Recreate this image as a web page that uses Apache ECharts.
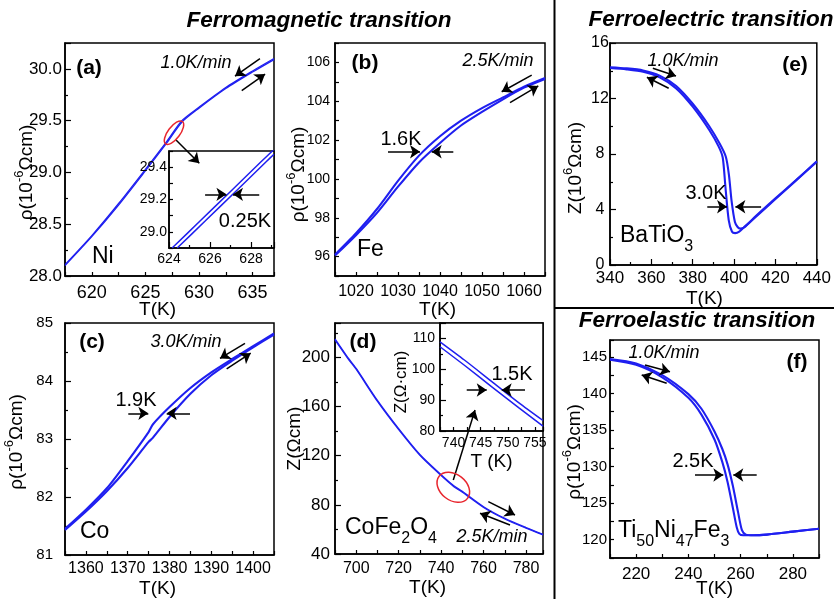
<!DOCTYPE html>
<html><head><meta charset="utf-8">
<script src="https://cdn.jsdelivr.net/npm/echarts@6/dist/echarts.min.js"></script>
<style>html,body{margin:0;padding:0;background:#fff}#c{width:834px;height:599px}</style>
</head><body><div id="c"></div>
<script>
// ---------------- data ----------------
// (a) Ni
const niT = [617.5, 620, 622.5, 625, 627, 628.4, 630, 632.5, 635, 637];
const niRhoHeat = [28.11, 28.39, 28.70, 29.03, 29.30, 29.50, 29.63, 29.82, 29.98, 30.10];
const niRhoCool = [28.10, 28.38, 28.685, 29.015, 29.285, 29.485, 29.62, 29.81, 29.97, 30.09];
// (a) inset
const niInTHeat = [624.15, 625.5, 627.0, 628.5, 629.12];
const niInRhoHeat = [28.90, 29.065, 29.25, 29.435, 29.51];
const niInTCool = [624.4, 625.75, 627.25, 628.75, 629.12];
const niInRhoCool = [28.90, 29.065, 29.25, 29.435, 29.48];
// (b) Fe
const feT = [1015, 1020, 1025, 1030, 1035, 1040, 1045, 1050, 1055, 1060, 1065];
const feRhoHeat = [96.1, 97.2, 98.45, 99.9, 101.2, 102.2, 103.0, 103.65, 104.2, 104.75, 105.2];
const feRhoCool = [96.05, 97.1, 98.25, 99.6, 100.85, 101.85, 102.75, 103.45, 104.1, 104.7, 105.15];
// (c) Co
const coT = [1355, 1360, 1365, 1370, 1375, 1376, 1380, 1385, 1390, 1395, 1400, 1405];
const coRhoHeat = [81.45, 81.78, 82.15, 82.62, 83.12, 83.25, 83.55, 83.88, 84.15, 84.38, 84.6, 84.82];
const coRhoCool = [81.43, 81.75, 82.1, 82.5, 82.95, 83.02, 83.38, 83.78, 84.1, 84.35, 84.58, 84.8];
// (d) CoFe2O4
const cfoT = [690, 696, 700, 710, 720, 730, 740, 746, 750, 760, 770, 780, 788];
const cfoZHeat = [215, 200, 191, 165, 142, 121, 104.5, 95.5, 91, 78.5, 69, 61.5, 56];
const cfoZCool = [214.2, 199.2, 190.2, 164.2, 141.2, 120.3, 103.8, 94.8, 90.3, 77.9, 68.5, 61, 55.5];
// (d) inset
const cfoInT = [737.5, 742, 747, 752, 756.5];
const cfoInZHeat = [108.9, 103.0, 96.1, 89.2, 83.4];
const cfoInZCool = [107.3, 101.3, 94.4, 87.6, 81.6];
// (e) BaTiO3
const btoTCool = [340, 348, 356, 364, 372, 380, 388, 392.5, 394.5, 395.8, 397.4, 399, 400.5, 402.5, 405, 410, 420, 430, 440];
const btoZCool = [14.2, 14.1, 13.93, 13.52, 12.73, 11.41, 9.73, 8.55, 7.75, 5.64, 3.24, 2.4, 2.3, 2.4, 2.75, 3.4, 4.75, 6.1, 7.45];
const btoTHeat = [340, 348, 356, 364, 372, 380, 388, 393, 396, 397.5, 398.8, 400.4, 401.8, 403, 405, 410, 420, 430, 440];
const btoZHeat = [14.25, 14.17, 14.02, 13.65, 12.9, 11.62, 10.0, 8.75, 7.8, 6.5, 4.6, 3.1, 2.72, 2.62, 2.72, 3.45, 4.8, 6.12, 7.47];
// (f) Ti50Ni47Fe3
const tnfTCool = [210, 220, 230, 240, 245, 250, 253, 255, 257, 258.5, 259.5, 261, 265, 270, 280, 290];
const tnfRhoCool = [144.6, 143.9, 142.2, 139.4, 137.1, 133.7, 130.6, 127.9, 124.4, 121.7, 120.8, 120.6, 120.6, 120.7, 121.1, 121.5];
const tnfTHeat = [210, 220, 230, 240, 245, 250, 253, 255, 257, 259, 260.5, 262, 265, 270, 280, 290];
const tnfRhoHeat = [144.7, 144.1, 142.5, 139.9, 137.9, 134.8, 132.4, 130.3, 127.4, 123.8, 121.3, 120.7, 120.6, 120.7, 121.1, 121.5];

// annotation arrows, in data coordinates of each panel
const arrowsA = [[[635.69, 30.10], [633.36, 29.93]], [[633.99, 29.79], [636.17, 29.95]], [[627.86, 29.313], [630.03, 29.088]]];
const arrowsAIn = [[[625.76, 29.232], [626.80, 29.232]], [[628.4, 29.232], [627.12, 29.232]]];
const arrowsB = [[[1027.62, 101.4], [1035.24, 101.4]], [[1043.17, 101.4], [1038.02, 101.4]], [[1061.83, 105.35], [1054.69, 104.49]], [[1056.67, 103.93], [1063.4, 104.79]]];
const arrowsC = [[[1370.14, 83.443], [1374.93, 83.443]], [[1384.9, 83.443], [1379.33, 83.443]], [[1398.06, 84.65], [1392.08, 84.39]], [[1393.68, 84.21], [1399.43, 84.48]]];
const arrowsD = [[[762.23, 82.57], [774.81, 71.74]], [[772.45, 63.6], [758.32, 73.12]], [[745.74, 100.2], [755.96, 157.2]]];
const arrowsDIn = [[[742.43, 93.29], [746.12, 93.29]], [[753.18, 93.29], [748.88, 93.29]]];
const arrowsE = [[[360.72, 14.18], [371.91, 13.62]], [[368.37, 12.74], [357.85, 13.53]], [[387.03, 4.2], [396.6, 4.2]], [[413.06, 4.2], [400.62, 4.2]]];
const arrowsF = [[[223.4, 143.88], [232.97, 142.97]], [[231.7, 141.38], [222.13, 142.52]], [[242.54, 128.85], [253.37, 128.85]], [[266.15, 128.85], [257.2, 128.85]]];
const ellipses = [{gi: 0, at: [627.67, 29.384], rx: 14, ry: 6, rot: 53}, {gi: 4, at: [745.74, 94.3], rx: 18, ry: 13, rot: -38}];

// ---------------- styling / layout ----------------
const FONT = "'Liberation Sans', Arial, Helvetica, sans-serif";
const BLUE = '#1f1ff0';
const RED = '#e8262e';
function isMult(v, m) { const r = v / m; return Math.abs(r - Math.round(r)) < 1e-6; }

function makeAxis(gi, min, max, major, minor, dec, o) {
  o = o || {};
  const useMajor = isMult(min, major);
  return {
    type: 'value', gridIndex: gi, min, max,
    interval: useMajor ? major : minor,
    axisLine: {show: true, onZero: false, lineStyle: {color: '#000', width: 1.5}},
    axisTick: {show: true, inside: true, length: useMajor ? 6 : 4, lineStyle: {color: '#000', width: 1.2}},
    minorTick: (useMajor && minor < major) ? {show: true, splitNumber: Math.round(major / minor), length: 3, lineStyle: {color: '#000', width: 1.2}} : {show: false},
    splitLine: {show: false},
    axisLabel: Object.assign({color: '#000', fontFamily: FONT, fontSize: o.fs || 17, margin: o.margin == null ? 8 : o.margin,
      formatter: v => isMult(v, major) ? v.toFixed(dec) : ''}, o.label || {}),
    name: o.name || '', nameLocation: 'middle', nameGap: o.gap || 20, nameRotate: o.rot || 0,
    nameMoveOverlap: false,
    nameTextStyle: Object.assign({color: '#000', fontFamily: FONT, fontSize: o.nfs || 19,
      rich: {sup: {fontFamily: FONT, fontSize: 13, color: '#000', padding: [0, 0, 14, 0]}}}, o.nts || {}),
    z: o.z || 0
  };
}
function grid(l, t, w, h, inset) {
  return {left: l, top: t, width: w, height: h, show: true, borderColor: '#000', borderWidth: 1.5,
    backgroundColor: inset ? '#fff' : 'transparent', z: inset ? 5 : 0};
}
function curve(gi, xs, ys, w, z) {
  return {type: 'line', xAxisIndex: gi, yAxisIndex: gi, data: xs.map((x, i) => [x, ys[i]]), symbol: 'none',
    smooth: 0.25, lineStyle: {color: BLUE, width: w || 1.5}, z: z || 2, silent: true, animation: false};
}
function arrows(gi, list) {
  return {type: 'lines', coordinateSystem: 'cartesian2d', xAxisIndex: gi, yAxisIndex: gi, z: 10,
    symbol: ['none', 'arrow'], symbolSize: 10, lineStyle: {color: '#000', width: 1.5, opacity: 1, curveness: 0},
    data: list.map(c => ({coords: c})), silent: true, animation: false};
}

const grids = [
  grid(65, 43, 209, 233), grid(169, 151, 105, 97, true), grid(335, 43, 210, 233), grid(65, 323, 209, 232),
  grid(335, 323, 208, 231), grid(440, 323, 103, 108, true), grid(610, 43, 209, 222), grid(610, 340, 209, 218)
];
const RHO = 'ρ(10{sup|-6}Ωcm)';
const xAxes = [
  makeAxis(0, 617.5, 637, 5, 2.5, 0, {margin: 8, fs: 18, name: 'T(K)', gap: 24, nts: {padding: [0, 24, 0, 0]}}),
  makeAxis(1, 624, 629.12, 2, 1, 0, {margin: 4, fs: 14, z: 6}),
  makeAxis(2, 1015, 1065, 10, 5, 0, {margin: 8, fs: 16, name: 'T(K)', gap: 24, nts: {padding: [0, 5, 0, 0]}}),
  makeAxis(3, 1355, 1405, 10, 5, 0, {margin: 6, fs: 16, name: 'T(K)', gap: 24, nts: {padding: [0, 24, 0, 0]}}),
  makeAxis(4, 690, 788, 20, 10, 0, {margin: 7, fs: 16, name: 'T(K)', gap: 24, nts: {padding: [0, 23, 0, 0]}}),
  makeAxis(5, 737.5, 756.5, 5, 2.5, 0, {margin: 5, fs: 14, z: 6, name: 'T (K)', gap: 21, nfs: 19}),
  makeAxis(6, 340, 440, 20, 10, 0, {margin: 5, fs: 17, name: 'T(K)', gap: 24, nts: {padding: [0, 18, 0, 0]}}),
  makeAxis(7, 210, 290, 20, 10, 0, {margin: 8, fs: 17, name: 'T(K)', gap: 21})
];
const yAxes = [
  makeAxis(0, 28, 30.25, 0.5, 0.25, 1, {margin: 3, fs: 17, name: RHO, rot: 90, gap: 25, nts: {padding: [0, 26, 0, 0]}}),
  makeAxis(1, 28.9, 29.5, 0.2, 0.1, 1, {margin: 2, fs: 14, z: 6}),
  makeAxis(2, 95, 107, 2, 1, 0, {margin: 5, fs: 14, name: RHO, rot: 90, gap: 23, nts: {padding: [0, 30, 0, 0]}}),
  makeAxis(3, 81, 85, 1, 0.5, 0, {margin: 12, fs: 15, name: RHO, rot: 90, gap: 35, nts: {padding: [0, 6, 0, 0]}}),
  makeAxis(4, 40, 228, 40, 20, 0, {margin: 5, fs: 17, name: 'Z(Ωcm)', rot: 90, gap: 31}),
  makeAxis(5, 80, 115, 10, 5, 0, {margin: 5, fs: 14, z: 6, name: 'Z(Ω·cm)', rot: 90, gap: 30, nfs: 17, nts: {padding: [0, 10, 0, 0]}}),
  makeAxis(6, 0, 16, 4, 2, 0, {margin: 10, fs: 16, label: {align: 'center'}, name: 'Z(10{sup|6}Ωcm)', rot: 90, gap: 21, nts: {padding: [0, 28, 0, 0]}}),
  makeAxis(7, 117.5, 147.3, 5, 2.5, 0, {margin: 3, fs: 15, name: RHO, rot: 90, gap: 22, nts: {padding: [0, 6, 0, 0]}})
];

const series = [
  curve(0, niT, niRhoHeat, 1.3), curve(0, niT, niRhoCool, 1.3),
  curve(1, niInTHeat, niInRhoHeat, 1.5, 7), curve(1, niInTCool, niInRhoCool, 1.5, 7),
  curve(2, feT, feRhoHeat, 2.1), curve(2, feT, feRhoCool, 2.1),
  curve(3, coT, coRhoHeat, 2.1), curve(3, coT, coRhoCool, 2.1),
  curve(4, cfoT, cfoZHeat, 1.3), curve(4, cfoT, cfoZCool, 1.3),
  curve(5, cfoInT, cfoInZHeat, 1.5, 7), curve(5, cfoInT, cfoInZCool, 1.5, 7),
  curve(6, btoTCool, btoZCool, 2.1), curve(6, btoTHeat, btoZHeat, 2.1),
  curve(7, tnfTCool, tnfRhoCool, 2.1), curve(7, tnfTHeat, tnfRhoHeat, 2.1),
  arrows(0, arrowsA), arrows(1, arrowsAIn), arrows(2, arrowsB), arrows(3, arrowsC),
  arrows(4, arrowsD), arrows(5, arrowsDIn), arrows(6, arrowsE), arrows(7, arrowsF)
];

const chart = echarts.init(document.getElementById('c'));
chart.setOption({animation: false, backgroundColor: '#fff', grid: grids, xAxis: xAxes, yAxis: yAxes, series: series});

// ---------------- texts and decorations ----------------
function txt(x, y, text, font, align, rich) {
  const st = {text, font, fill: '#000', textAlign: align || 'center', textVerticalAlign: 'middle'};
  if (rich) st.rich = rich;
  return {type: 'text', x, y, z: 20, silent: true, style: st};
}
const SUB = {s: {fontFamily: FONT, fontSize: 16, fill: '#000', padding: [22, 0, 0, 0]}};
const TITLE = 'italic bold 22.5px ' + FONT, PANEL = 'bold 21px ' + FONT, RATE = 'italic 18px ' + FONT,
  NOTE = '20px ' + FONT, MAT = '23px ' + FONT;
const gfx = [
  txt(319, 21, 'Ferromagnetic transition', TITLE),
  txt(711, 20, 'Ferroelectric transition', TITLE),
  txt(697, 321, 'Ferroelastic transition', TITLE),
  {type: 'line', z: 20, silent: true, shape: {x1: 554.5, y1: 0, x2: 554.5, y2: 599}, style: {stroke: '#000', lineWidth: 2}},
  {type: 'line', z: 20, silent: true, shape: {x1: 554.5, y1: 308, x2: 834, y2: 308}, style: {stroke: '#000', lineWidth: 2}},
  txt(89, 68, '(a)', PANEL), txt(365, 63, '(b)', PANEL), txt(92, 342, '(c)', PANEL),
  txt(363, 342, '(d)', PANEL), txt(795, 65, '(e)', PANEL), txt(797, 362, '(f)', PANEL),
  txt(92, 257, 'Ni', MAT, 'left'), txt(357, 250, 'Fe', MAT, 'left'), txt(80, 532, 'Co', MAT, 'left'),
  txt(345, 528, 'CoFe{s|2}O{s|4}', MAT, 'left', SUB),
  txt(620, 236, 'BaTiO{s|3}', MAT, 'left', SUB),
  txt(618, 531, 'Ti{s|50}Ni{s|47}Fe{s|3}', MAT, 'left', SUB),
  txt(196, 63, '1.0K/min', RATE), txt(498, 61, '2.5K/min', RATE), txt(186, 342, '3.0K/min', RATE),
  txt(492, 537, '2.5K/min', RATE), txt(683, 61, '1.0K/min', RATE), txt(664, 353, '1.0K/min', RATE),
  txt(245, 221, '0.25K', NOTE), txt(401, 139, '1.6K', NOTE), txt(136, 400, '1.9K', NOTE),
  txt(512, 374, '1.5K', NOTE), txt(706, 193, '3.0K', NOTE), txt(693, 461, '2.5K', NOTE)
];
ellipses.forEach(e => {
  const p = chart.convertToPixel({gridIndex: e.gi}, e.at);
  gfx.push({type: 'ellipse', x: p[0], y: p[1], rotation: e.rot * Math.PI / 180, z: 20, silent: true,
    shape: {cx: 0, cy: 0, rx: e.rx, ry: e.ry}, style: {fill: 'none', stroke: RED, lineWidth: 1.5}});
});
chart.setOption({graphic: gfx});
</script></body></html>
